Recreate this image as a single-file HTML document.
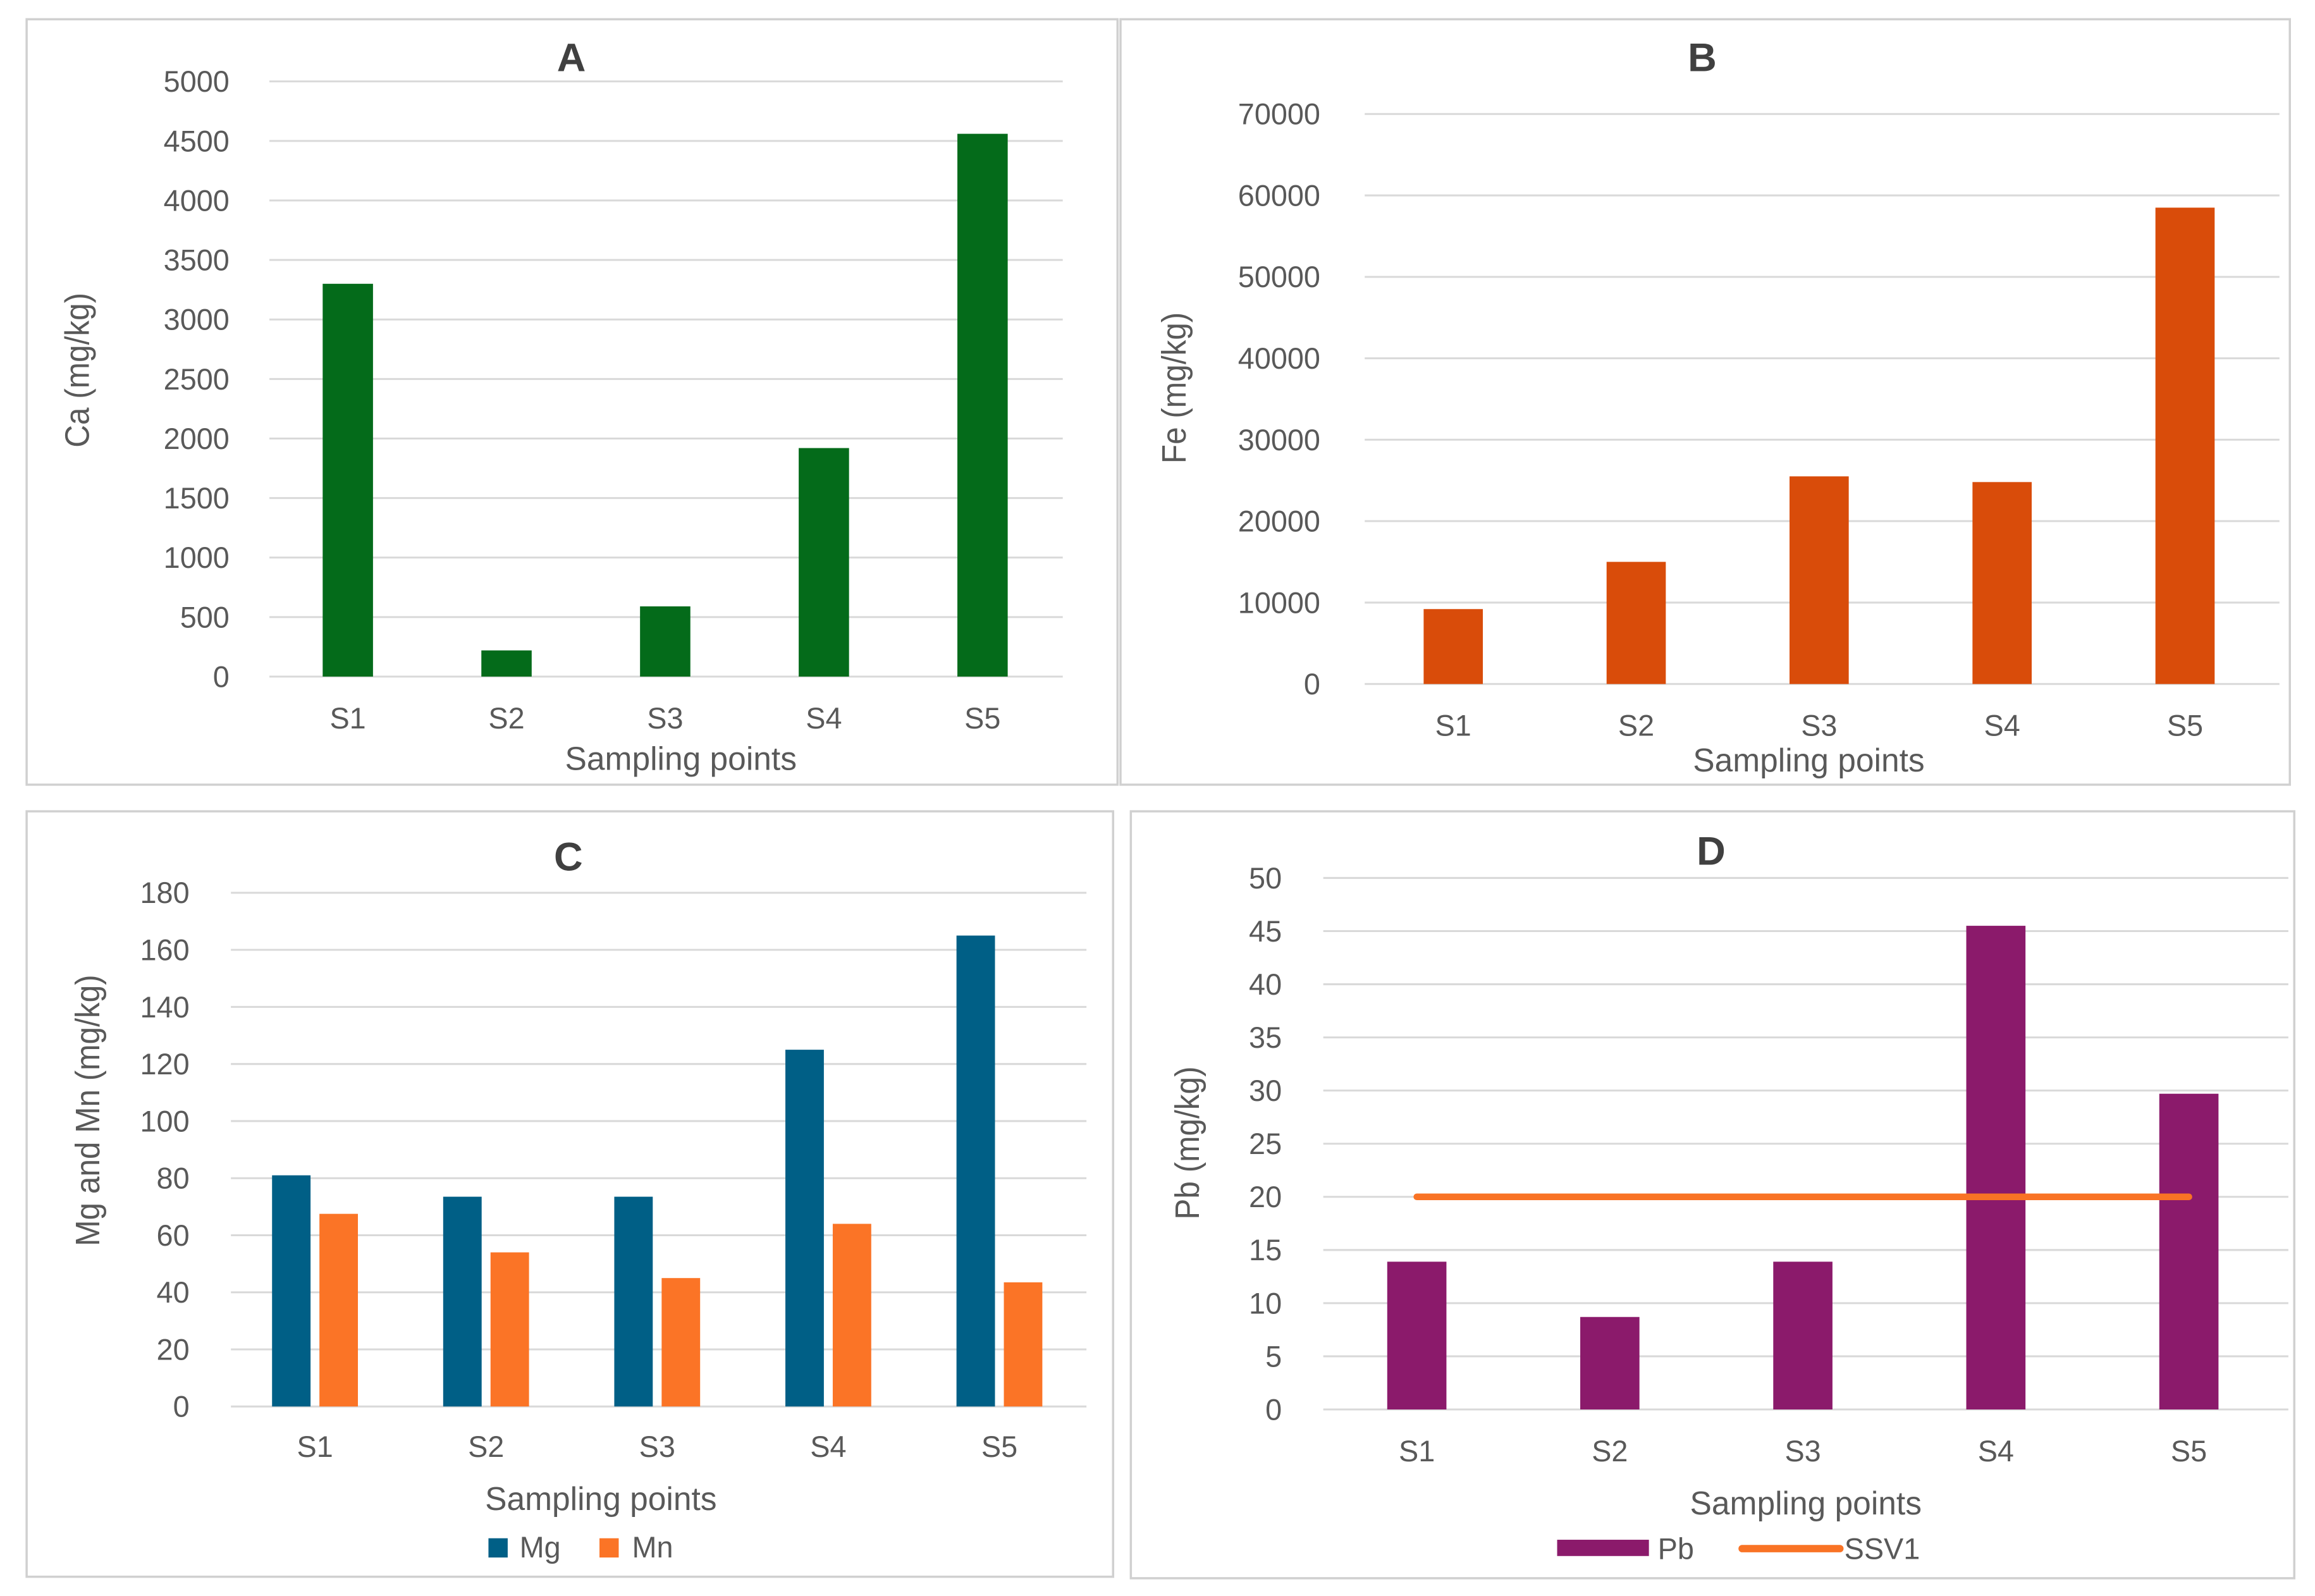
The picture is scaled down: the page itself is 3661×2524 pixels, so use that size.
<!DOCTYPE html>
<html><head><meta charset="utf-8"><style>
html,body{margin:0;padding:0;background:#fff}
svg{display:block}
text{font-family:"Liberation Sans",sans-serif;fill:#595959}
</style></head><body>
<svg id="fig" width="3661" height="2524" viewBox="0 0 1564 1078" preserveAspectRatio="none" xmlns="http://www.w3.org/2000/svg"></svg>
<script>
const cats = ["S1","S2","S3","S4","S5"];
const caVals = [3300,220,590,1920,4560];
const caTicks = [0,500,1000,1500,2000,2500,3000,3500,4000,4500,5000];
const feVals = [9200,15000,25500,24800,58500];
const feTicks = [0,10000,20000,30000,40000,50000,60000,70000];
const mgVals = [81,73.5,73.5,125,165];
const mnVals = [67.5,54,45,64,43.5];
const cTicks = [0,20,40,60,80,100,120,140,160,180];
const pbVals = [13.9,8.7,13.9,45.5,29.7];
const ssvVals = [20,20,20,20,20];
const dTicks = [0,5,10,15,20,25,30,35,40,45,50];

const svg = document.getElementById('fig');
const NS = "http://www.w3.org/2000/svg";
function mk(tag, attrs, parent, txt){
  const e = document.createElementNS(NS, tag);
  for (const k in attrs) e.setAttribute(k, attrs[k]);
  if (txt !== undefined) e.textContent = txt;
  (parent||svg).appendChild(e);
  return e;
}

function panel(cfg){
  const g = mk('g', {});
  
  
  const b = mk('rect', {x:cfg.bx, y:cfg.by, width:cfg.bw, height:cfg.bh, fill:'#fff', stroke:'#d0d0d0', 'stroke-width':1.5}, g);
  
  
  const tmax = cfg.ticks[cfg.ticks.length-1];
  const y = v => cfg.y0 - (v/tmax)*(cfg.y0-cfg.yTop);
  const step = (cfg.x1-cfg.x0)/cats.length;
  const xc = i => cfg.x0 + step*(i+0.5) + (cfg.xoff||0);
  cfg.ticks.forEach(t=>{
    const l = mk('line', {x1:cfg.x0, x2:cfg.x1, y1:y(t), y2:y(t), stroke:'#d9d9d9', 'stroke-width':1.3}, g);
    
    
    const tl = mk('text', {x:cfg.tickX, y:y(t)+7, 'text-anchor':'end', 'font-size':20}, g, String(t));
    
    
  });
  cfg.series.forEach(s=>{
    s.vals.forEach((v,i)=>{
      const r = mk('rect', {x:xc(i)+s.off-s.w/2, y:y(v), width:s.w, height:cfg.y0-y(v), fill:s.color}, g);
      
      
    });
  });
  if (cfg.line){
    const pts = cfg.line.vals.map((v,i)=>xc(i)+','+y(v)).join(' ');
    const pl = mk('polyline', {points:pts, fill:'none', stroke:cfg.line.color, 'stroke-width':4.5, 'stroke-linecap':'round'}, g);
    
    
  }
  cats.forEach((c,i)=>{
    const t = mk('text', {x:xc(i), y:cfg.catY, 'text-anchor':'middle', 'font-size':20}, g, c);
    
    
  });
  const tt = mk('text', {x:cfg.titleX, y:cfg.titleY, 'text-anchor':'middle', 'font-size':27, 'font-weight':'bold', style:'fill:#404040'}, g, cfg.title);
  
  
  const xt = mk('text', {x:cfg.xtX, y:cfg.xtY, 'text-anchor':'middle', 'font-size':22}, g, 'Sampling points');
  
  
  const yt = mk('text', {x:0, y:0, 'text-anchor':'middle', 'font-size':23, transform:'translate('+cfg.ytX+','+cfg.ytY+') rotate(-90) scale(0.92,1)'}, g, cfg.ylabel);
  
  
  return g;
}

panel({name:'panel-a-calcium', bx:18, by:13, bw:737, bh:517, x0:182, x1:718, y0:457, yTop:55, ticks:caTicks, tickX:155,
  series:[{key:'ca', vals:caVals, color:'#046b1a', w:34, off:0}], xoff:-0.6,
  catY:492, title:'A', titleX:386, titleY:48, xtX:460, xtY:520, ytX:60, ytY:250, ylabel:'Ca (mg/kg)'});

panel({name:'panel-b-iron', bx:757, by:13, bw:790, bh:517, x0:922, x1:1540, y0:462, yTop:77, ticks:feTicks, tickX:892,
  series:[{key:'fe', vals:feVals, color:'#d94c0a', w:40, off:0}], xoff:-2,
  catY:497, title:'B', titleX:1150, titleY:48, xtX:1222, xtY:521, ytX:801, ytY:262, ylabel:'Fe (mg/kg)'});

panel({name:'panel-c-mg-mn', bx:18, by:548, bw:734, bh:517, x0:156, x1:734, y0:950, yTop:603, ticks:cTicks, tickX:128,
  series:[{key:'mg', vals:mgVals, color:'#005f86', w:26, off:-16},{key:'mn', vals:mnVals, color:'#fb7426', w:26, off:16}], xoff:-1,
  catY:984, title:'C', titleX:384, titleY:588, xtX:406, xtY:1020, ytX:67, ytY:750, ylabel:'Mg and Mn (mg/kg)'});

panel({name:'panel-d-lead', bx:764, by:548, bw:786, bh:518, x0:894, x1:1546, y0:952, yTop:593, ticks:dTicks, tickX:866,
  series:[{key:'pb', vals:pbVals, color:'#8b1a6b', w:40, off:0}], xoff:-2,
  line:{vals:ssvVals, color:'#f97325'},
  catY:987, title:'D', titleX:1156, titleY:584, xtX:1220, xtY:1023, ytX:810, ytY:772, ylabel:'Pb (mg/kg)'});

// legends
function legRect(x,y,w,h,color,name){
  const r = mk('rect', {x:x, y:y, width:w, height:h, fill:color});
  
  
}
function legText(x,y,s,name){
  const t = mk('text', {x:x, y:y, 'font-size':20}, svg, s);
  
  
}
legRect(330,1039,13,13,'#005f86','legend-mg-swatch');
legText(351,1052,'Mg','legend-mg-label');
legRect(405,1039,13,13,'#fb7426','legend-mn-swatch');
legText(427,1052,'Mn','legend-mn-label');
legRect(1052,1040,62,11,'#8b1a6b','legend-pb-swatch');
legText(1120,1053,'Pb','legend-pb-label');
const ll = mk('line', {x1:1177, x2:1243, y1:1046, y2:1046, stroke:'#f97325', 'stroke-width':5, 'stroke-linecap':'round'});


legText(1246,1053,'SSV1','legend-ssv1-label');
</script>
</body></html>
